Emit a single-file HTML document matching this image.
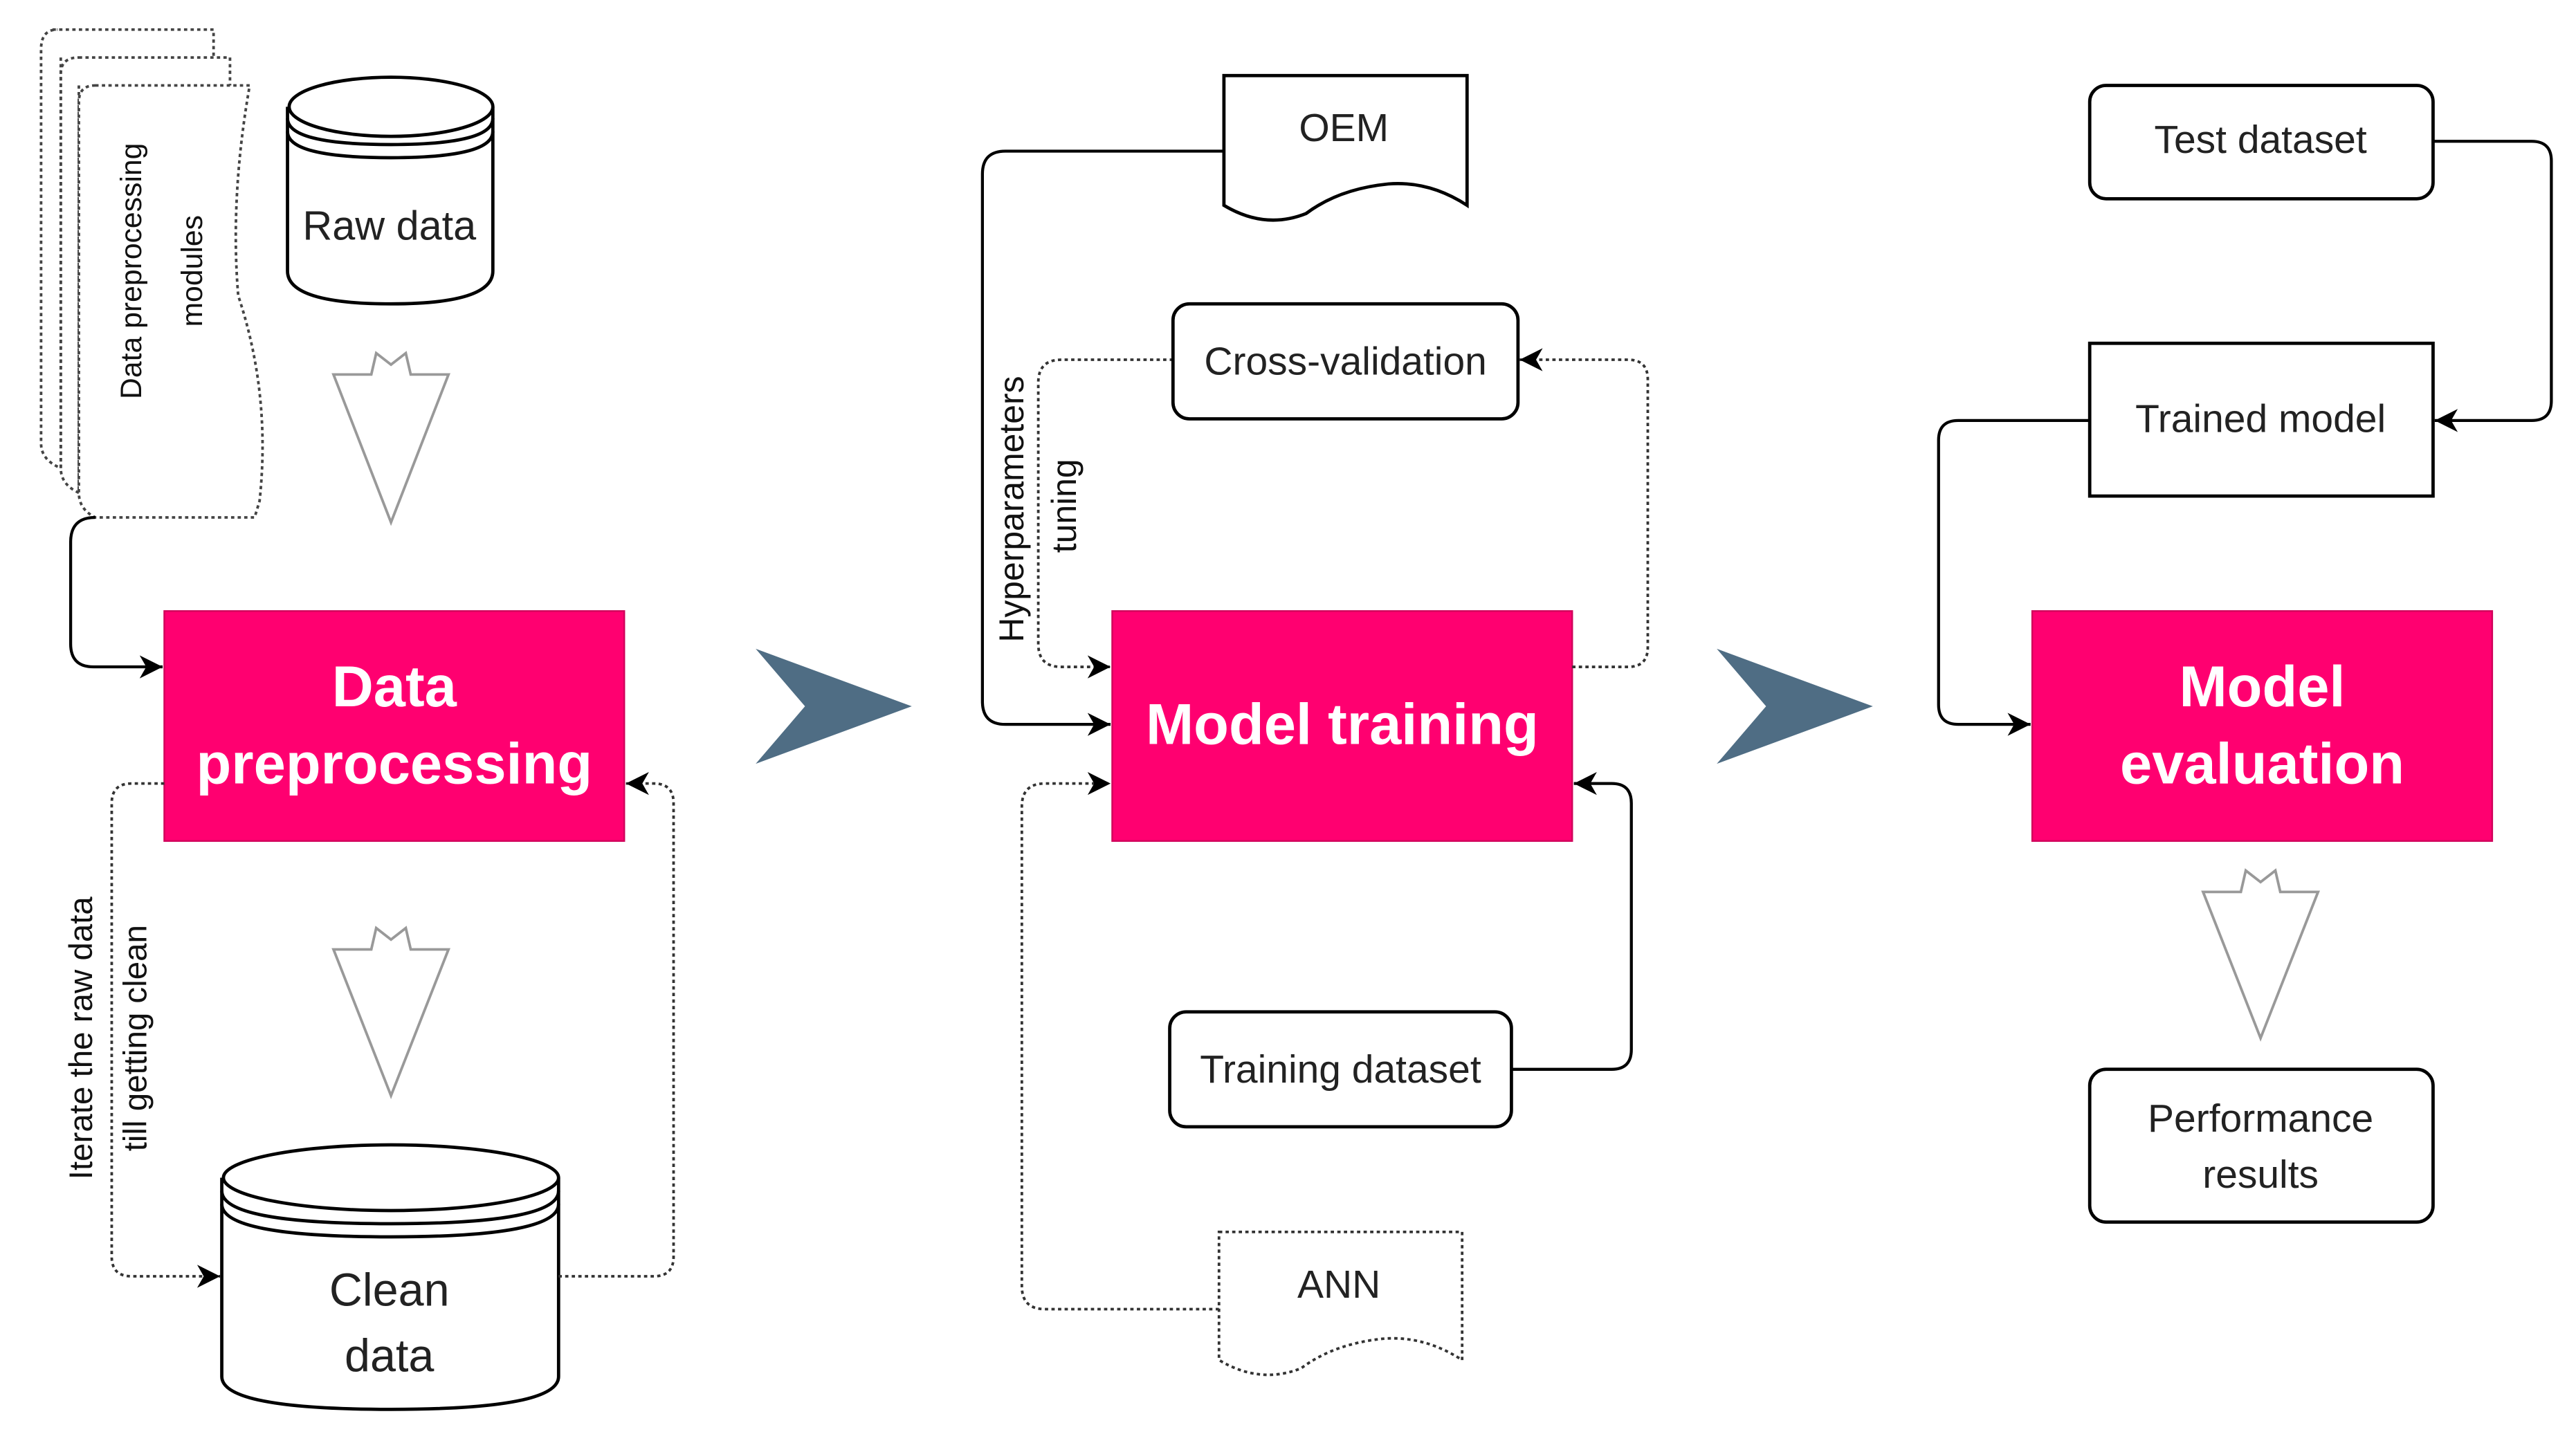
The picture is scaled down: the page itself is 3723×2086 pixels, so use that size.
<!DOCTYPE html>
<html><head><meta charset="utf-8"><style>html,body{margin:0;padding:0;background:#fff}svg{display:block}</style></head>
<body>
<svg width="3723" height="2086" viewBox="0 0 1568 878.5" preserveAspectRatio="none" xmlns="http://www.w3.org/2000/svg" font-family="Liberation Sans, Arial, sans-serif">
<defs>
<marker id="a" markerWidth="16" markerHeight="16" refX="14" refY="7" orient="auto" markerUnits="userSpaceOnUse"><path d="M0,0 L14,7 L0,14 L4,7 Z" fill="#000"/></marker>
</defs>
<rect width="1568" height="879" fill="#fff"/>
<g fill="none" stroke="#444" stroke-width="1.6">
<path d="M32,18 H130 V36 M37,35 V285 Q25,280 25,270 V30 Q25,18 35,18" stroke-dasharray="2,2"/>
<path d="M48,35 H140 V52 M48,52 V300 Q37,295 37,285 V45 Q37,35 48,35" stroke-dasharray="2,2"/>
<path d="M58,52 H152 Q140,120 145,180 Q165,240 158,305 L155,315 H58 Q48,310 48,300 V62 Q48,52 58,52 Z" fill="#fff" stroke-dasharray="2,2"/>
</g>
<text transform="translate(86,165) rotate(-90)" text-anchor="middle" font-size="18" fill="#111">Data  preprocessing</text>
<text transform="translate(123,165) rotate(-90)" text-anchor="middle" font-size="18" fill="#111">modules</text>
<g fill="#fff" stroke="#000" stroke-width="2">
<path d="M175,65 V165 Q175,185 238,185 Q300,185 300,165 V65"/>
<ellipse cx="238" cy="65" rx="62" ry="18"/>
<path d="M175,72 Q175,88 238,88 Q300,88 300,72" fill="none"/>
<path d="M175,80 Q175,96 238,96 Q300,96 300,80" fill="none"/>
</g>
<text x="237" y="146" text-anchor="middle" font-size="25" fill="#222">Raw data</text>
<g fill="#fff" stroke="#999" stroke-width="1.6">
<path d="M203,228 H226 L229,215 L238,222 L247,215 L250,228 H273 L238,318 Z"/>
<path d="M203,578 H226 L229,565 L238,572 L247,565 L250,578 H273 L238,667 Z"/>
<path d="M1341,543 H1364 L1367,530 L1376,537 L1385,530 L1388,543 H1411 L1376,632 Z"/>
</g>
<g fill="#FF0070" stroke="#d0005a" stroke-width="1">
<rect x="100" y="372" width="280" height="140"/>
<rect x="677" y="372" width="280" height="140"/>
<rect x="1237" y="372" width="280" height="140"/>
</g>
<g fill="#fff" font-weight="bold" font-size="35" text-anchor="middle">
<text x="240" y="430">Data</text>
<text x="240" y="477">preprocessing</text>
<text x="817" y="453">Model training</text>
<text x="1377" y="430">Model</text>
<text x="1377" y="477">evaluation</text>
</g>
<g fill="#fff" stroke="#000" stroke-width="2">
<path d="M135,717 V838 Q135,858 238,858 Q340,858 340,838 V717"/>
<ellipse cx="238" cy="717" rx="102" ry="20"/>
<path d="M135,725 Q135,745 238,745 Q340,745 340,725" fill="none"/>
<path d="M135,733 Q135,753 238,753 Q340,753 340,733" fill="none"/>
</g>
<text x="237" y="795" text-anchor="middle" font-size="28" fill="#222">Clean</text>
<text x="237" y="835" text-anchor="middle" font-size="28" fill="#222">data</text>
<g fill="none" stroke="#000" stroke-width="1.8">
<path d="M58,315 Q43,315 43,330 V392 Q43,406 57,406 H99" marker-end="url(#a)"/>
<path d="M745,92 H612 Q598,92 598,106 V427 Q598,441 612,441 H676" marker-end="url(#a)"/>
<path d="M920,651 H981 Q993,651 993,639 V489 Q993,477 981,477 H958" marker-end="url(#a)"/>
<path d="M1481,86 H1541 Q1553,86 1553,98 V244 Q1553,256 1541,256 H1482" marker-end="url(#a)"/>
<path d="M1272,256 H1192 Q1180,256 1180,268 V429 Q1180,441 1192,441 H1236" marker-end="url(#a)"/>
</g>
<g fill="none" stroke="#333" stroke-width="1.6" stroke-dasharray="2,2">
<path d="M100,477 H80 Q68,477 68,489 V765 Q68,777 80,777 H134" marker-end="url(#a)"/>
<path d="M340,777 H398 Q410,777 410,765 V489 Q410,477 398,477 H381" marker-end="url(#a)"/>
<path d="M714,219 H646 Q632,219 632,233 V392 Q632,406 646,406 H676" marker-end="url(#a)"/>
<path d="M957,406 H991 Q1003,406 1003,394 V231 Q1003,219 991,219 H925" marker-end="url(#a)"/>
<path d="M742,797 H636 Q622,797 622,783 V491 Q622,477 636,477 H676" marker-end="url(#a)"/>
</g>
<text transform="translate(56,632) rotate(-90)" text-anchor="middle" font-size="20" fill="#111">Iterate the raw data</text>
<text transform="translate(89,632) rotate(-90)" text-anchor="middle" font-size="20" fill="#111">till getting clean</text>
<text transform="translate(623,310) rotate(-90)" text-anchor="middle" font-size="21" fill="#111">Hyperparameters</text>
<text transform="translate(655,308) rotate(-90)" text-anchor="middle" font-size="21" fill="#111">tuning</text>
<path d="M460,395 L555,430 L460,465 L490,430 Z" fill="#4f6d84"/>
<path d="M1045,395 L1140,430 L1045,465 L1075,430 Z" fill="#4f6d84"/>
<path d="M745,46 H893 V125 Q870,110 845,112 Q815,115 795,130 Q770,140 745,125 Z" fill="#fff" stroke="#000" stroke-width="2"/>
<text x="818" y="86" text-anchor="middle" font-size="24" fill="#222">OEM</text>
<path d="M742,750 H890 V828 Q867,813 842,815 Q812,818 792,833 Q767,843 742,828 Z" fill="#fff" stroke="#333" stroke-width="1.6" stroke-dasharray="2,2"/>
<text x="815" y="790" text-anchor="middle" font-size="24" fill="#222">ANN</text>
<g fill="#fff" stroke="#000" stroke-width="2">
<rect x="714" y="185" width="210" height="70" rx="10"/>
<rect x="712" y="616" width="208" height="70" rx="10"/>
<rect x="1272" y="52" width="209" height="69" rx="10"/>
<rect x="1272" y="209" width="209" height="93"/>
<rect x="1272" y="651" width="209" height="93" rx="10"/>
</g>
<g font-size="24" fill="#222" text-anchor="middle">
<text x="819" y="228">Cross-validation</text>
<text x="816" y="659">Training dataset</text>
<text x="1376" y="93">Test dataset</text>
<text x="1376" y="263">Trained model</text>
<text x="1376" y="689">Performance</text>
<text x="1376" y="723">results</text>
</g>
</svg>
</body></html>
